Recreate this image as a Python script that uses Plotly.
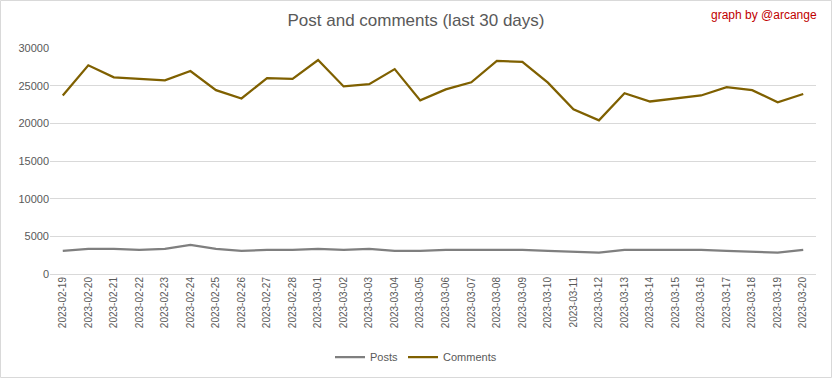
import plotly.graph_objects as go

dates = ["2023-02-19", "2023-02-20", "2023-02-21", "2023-02-22", "2023-02-23", "2023-02-24",
         "2023-02-25", "2023-02-26", "2023-02-27", "2023-02-28", "2023-03-01", "2023-03-02",
         "2023-03-03", "2023-03-04", "2023-03-05", "2023-03-06", "2023-03-07", "2023-03-08",
         "2023-03-09", "2023-03-10", "2023-03-11", "2023-03-12", "2023-03-13", "2023-03-14",
         "2023-03-15", "2023-03-16", "2023-03-17", "2023-03-18", "2023-03-19", "2023-03-20"]

posts = [3080, 3330, 3330, 3200, 3330, 3880, 3330, 3060, 3200, 3200, 3330, 3200,
         3330, 3060, 3060, 3200, 3200, 3200, 3200, 3060, 2930, 2840, 3200, 3200,
         3200, 3200, 3060, 2930, 2840, 3200]

comments = [23700, 27700, 26100, 25900, 25700, 26950, 24400, 23300, 26000, 25900, 28400, 24900,
            25200, 27200, 23050, 24500, 25450, 28300, 28150, 25400, 21850, 20400, 24000, 22900,
            23300, 23700, 24800, 24400, 22800, 23900]

FONT = "Liberation Sans, Arial, sans-serif"
GRAY = "#595959"

fig = go.Figure()
fig.add_trace(go.Scatter(x=dates, y=posts, mode="lines", name="Posts",
                         line=dict(color="#7F7F7F", width=2.25)))
fig.add_trace(go.Scatter(x=dates, y=comments, mode="lines", name="Comments",
                         line=dict(color="#7F6000", width=2.25)))

fig.update_layout(
    width=832, height=378,
    margin=dict(l=50, r=16, t=48, b=104, autoexpand=False),
    paper_bgcolor="white", plot_bgcolor="white",
    font=dict(family=FONT, color=GRAY),
    title=dict(text="Post and comments (last 30 days)", x=0.5, xref="container",
               y=1 - 20 / 378, yref="container", yanchor="middle", xanchor="center",
               font=dict(size=17, color=GRAY, family=FONT)),
    showlegend=True,
    legend=dict(orientation="h", x=(416 - 50) / 766, xref="paper", xanchor="center",
                y=(274 - 357) / 226, yref="paper", yanchor="middle",
                font=dict(size=11, color=GRAY), bgcolor="rgba(0,0,0,0)"),
    xaxis=dict(type="category", range=[-0.5, 29.5], tickangle=-90, showgrid=False,
               showline=False, ticks="", automargin=False, nticks=40,
               tickfont=dict(size=10, color=GRAY)),
    yaxis=dict(range=[0, 30000], dtick=5000, tickformat="d", showgrid=True,
               gridcolor="#D9D9D9", gridwidth=1, zeroline=True, zerolinecolor="#D9D9D9",
               zerolinewidth=1, showline=False, ticks="", automargin=False,
               tickfont=dict(size=11, color=GRAY)),
    annotations=[dict(text="graph by @arcange", xref="paper", yref="paper",
                      x=(819 - 50) / 766, y=(274 - 15) / 226, xanchor="right", yanchor="middle",
                      showarrow=False, font=dict(size=12, color="#C00000", family=FONT))],
    shapes=[dict(type="rect", xref="paper", yref="paper",
                 x0=(0.5 - 50) / 766, x1=(831.5 - 50) / 766,
                 y0=(274 - 377.5) / 226, y1=(274 - 0.5) / 226,
                 line=dict(color="#D9D9D9", width=1), layer="below")],
)

fig.write_html("out.html", config={"displayModeBar": False},
               post_script="document.body.style.margin='0';")
